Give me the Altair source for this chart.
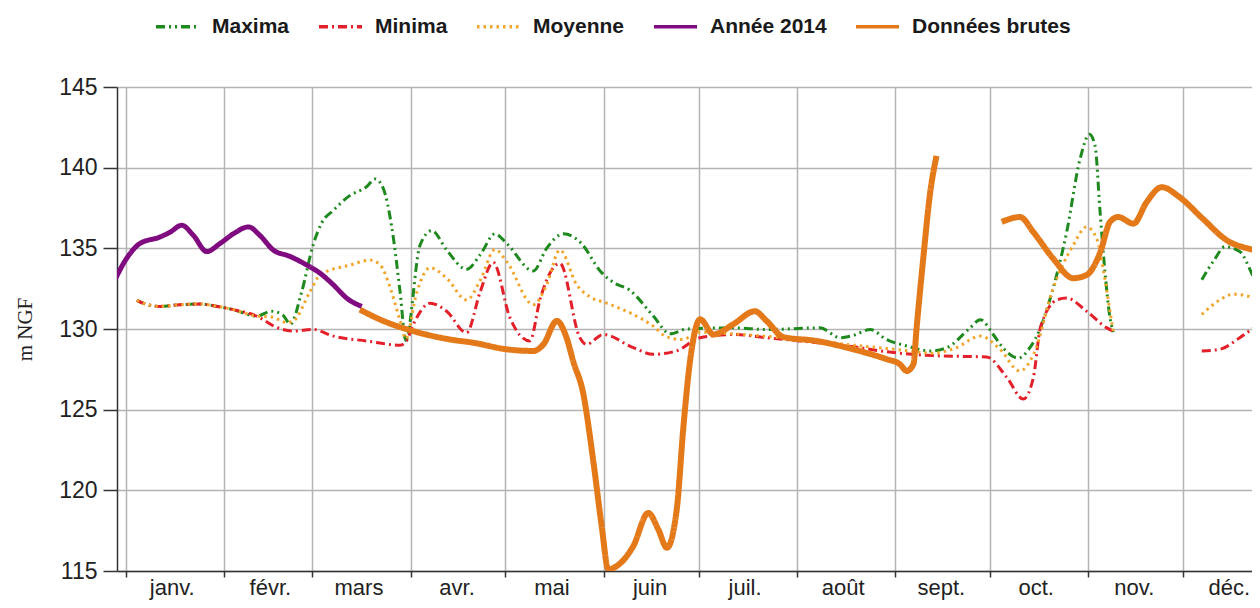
import altair as alt
import pandas as pd

# ---------------- data ----------------
series = ["Maxima", "Minima", "Moyenne", "Année 2014", "Données brutes"]
colors = ["#1e8a1e", "#e3202a", "#f2a52a", "#800a80", "#e4791a"]
dashes = [[9, 4, 2, 4, 2, 4], [9, 4, 2, 4], [2.5, 4], [1, 0], [1, 0]]
widths = [3, 3, 3, 5, 6]

month_starts = [0, 31, 59, 90, 120, 151, 181, 212, 243, 273, 304, 334]
month_labels = ["janv.", "févr.", "mars", "avr.", "mai", "juin", "juil.",
                "août", "sept.", "oct.", "nov.", "déc."]
y_ticks = [115, 120, 125, 130, 135, 140, 145]

# Jan-Feb, where the three statistics coincide
common_days = [3.5, 7, 10.8, 17, 23.5, 29, 34, 41.4]
common_vals = [131.78, 131.5, 131.4, 131.5, 131.55, 131.4, 131.2, 130.8]

max1_days = [46, 49.7, 52, 55.6, 59.2, 62, 65.6, 71, 76, 78.8, 81.4, 84, 86.7,
             88.5, 93, 96.7, 101.4, 107.7, 112, 116.7, 120.4, 128.8, 133,
             138.3, 144, 149.9, 154, 159.3, 166.7, 172, 177.2, 192, 202.6,
             219.4, 225.7, 229.9, 235.2, 240.4, 246.8, 254.2, 259.4, 266.8,
             270, 274.1, 276.3, 282, 285.7, 289, 293, 297.3, 301.5, 304.5,
             306.3, 307.8, 309.4, 311, 312]
max1_vals = [131.1, 130.85, 130.3, 132.3, 135.2, 136.6, 137.35, 138.3, 138.8,
             139.3, 138.7, 136.4, 132.3, 129.3, 135.2, 136.1, 134.9, 133.7,
             134.6, 135.9, 135.3, 133.6, 135.0, 135.9, 135.3, 133.6, 132.9,
             132.4, 130.8, 129.7, 130.0, 130.07, 129.97, 130.07, 129.46, 129.6,
             129.97, 129.35, 128.95, 128.64, 128.84, 130.07, 130.58, 129.66,
             129.05, 128.2, 128.84, 130.07, 132.5, 136.0, 140.5, 142.07,
             141.35, 137.45, 133.56, 130.7, 129.8]
max2_days = [340, 344, 347.3, 352, 356, 358.4, 362]
max2_vals = [133.05, 134.3, 135.1, 134.8, 133.35, 132.3, 130.5]

min1_days = [47.7, 53, 59.2, 65.6, 76, 86.7, 88.5, 90.9, 96.2, 101.4, 107.7,
             112, 116.1, 121.4, 127.7, 131, 137.2, 143.5, 145.6, 150.9, 160.4,
             166.7, 174, 181.5, 192, 202.6, 213, 230, 240, 255, 265, 272,
             278.4, 283.6, 286.8, 289, 294.2, 297.3, 303.6, 310, 312]
min1_vals = [130.1, 129.87, 129.97, 129.56, 129.26, 129.0, 129.2, 130.3, 131.6,
             131.1, 129.77, 132.3, 134.13, 130.7, 129.26, 131.9, 134.07,
             129.46, 129.05, 129.66, 128.84, 128.43, 128.64, 129.46, 129.66,
             129.46, 129.26, 128.9, 128.6, 128.35, 128.3, 128.27, 127.0,
             125.66, 127.0, 130.07, 131.8, 131.92, 131.1, 130.07, 129.87]
min2_days = [340, 345.7, 352, 356.3, 362]
min2_vals = [128.64, 128.74, 129.46, 130.07, 131.0]

moy1_days = [46, 50.9, 53, 58.2, 61.4, 71, 77.2, 80.4, 84, 86.7, 88.5, 92,
             96.2, 101.4, 107.7, 112, 116.7, 120.4, 128.8, 133, 137.2, 142.5,
             146.6, 152, 160.4, 166.7, 171, 176, 181, 192, 205, 215, 230, 245,
             255, 262, 270, 276, 282.5, 287, 293, 299.4, 303.6, 306.8, 309,
             311, 312]
moy1_vals = [130.75, 130.4, 130.5, 132.3, 133.35, 133.97, 134.27, 133.97,
             132.3, 130.5, 129.4, 132.3, 133.8, 133.15, 131.8, 133.0, 134.93,
             134.17, 131.5, 132.74, 134.9, 132.74, 132.0, 131.6, 130.9, 130.18,
             129.5, 129.35, 129.8, 129.7, 129.5, 129.3, 129.0, 128.7, 128.5,
             128.8, 129.56, 128.8, 127.4, 128.5, 132.5, 135.2, 136.33, 135.6,
             133.56, 131.1, 129.87]
moy2_days = [340, 345.7, 350, 356.3, 362]
moy2_vals = [130.9, 131.8, 132.16, 131.92, 131.0]

an_days = [-4, 0.3, 4.5, 10.8, 14, 17.7, 21.4, 25.6, 29.8, 34, 38.8, 42.4,
           46.6, 51.9, 57.2, 61.4, 65.6, 69.9, 74.6]
an_vals = [132.8, 134.38, 135.3, 135.7, 136.0, 136.43, 135.8, 134.8, 135.3,
           135.9, 136.33, 135.8, 134.9, 134.5, 133.97, 133.46, 132.74, 131.9,
           131.4]

br1_days = [74, 81.4, 90.9, 102.5, 109.8, 120.4, 128.8, 132, 136.2, 139.3,
            141.4, 144.6, 147.7, 150.4, 152.5, 155.1, 160.4, 165.1, 168.3, 171,
            174.1, 176.2, 178.3, 181.5, 185.7, 192, 198.8, 202.5, 207.8, 218.3,
            229.9, 240.4, 244.6, 246.8, 248.9, 249.9, 252, 254.2, 256.2]
br1_vals = [131.2, 130.5, 129.87, 129.35, 129.15, 128.74, 128.64, 129.05,
            130.5, 129.46, 128.0, 125.97, 121.87, 117.77, 115.1, 115.3, 116.55,
            118.6, 117.57, 116.44, 118.8, 123.9, 128.0, 130.6, 129.66, 130.3,
            131.1, 130.5, 129.5, 129.26, 128.74, 128.13, 127.82, 127.4, 127.82,
            130.07, 134.38, 138.48, 140.73]
br2_days = [276.8, 282.6, 286.8, 293, 299.4, 303.6, 308, 311, 313.6, 318.4,
            322.6, 327.3, 333, 340.3, 347.9, 356.3, 362]
br2_vals = [136.64, 136.94, 136.0, 134.38, 133.15, 133.35, 134.8, 136.64,
            136.94, 136.53, 137.87, 138.79, 138.17, 136.84, 135.5, 134.9, 134.6]

# ---------------- table ----------------
segments = [
    ("Maxima", "max1", common_days + max1_days, common_vals + max1_vals),
    ("Maxima", "max2", max2_days, max2_vals),
    ("Minima", "min1", common_days + min1_days, common_vals + min1_vals),
    ("Minima", "min2", min2_days, min2_vals),
    ("Moyenne", "moy1", common_days + moy1_days, common_vals + moy1_vals),
    ("Moyenne", "moy2", moy2_days, moy2_vals),
    ("Année 2014", "an", an_days, an_vals),
    ("Données brutes", "br1", br1_days, br1_vals),
    ("Données brutes", "br2", br2_days, br2_vals),
]
width_of = dict(zip(series, widths))
rows = []
for serie, seg, days, vals in segments:
    for d, v in zip(days, vals):
        rows.append({"serie": serie, "seg": seg, "jour": d, "cote": v,
                     "w": width_of[serie]})
df = pd.DataFrame(rows)

label_expr = f"{month_labels}[indexof({month_starts}, datum.value)]"

FONT = "Liberation Sans"
legend_kw = dict(title=None, orient="none", direction="horizontal",
                 legendX=37, legendY=-84)

chart = alt.Chart(df).mark_line(interpolate="monotone", clip=True).encode(
    x=alt.X("jour:Q",
            scale=alt.Scale(domain=[-2.75, 355.87], nice=False, zero=False),
            axis=alt.Axis(values=month_starts, labelExpr=label_expr,
                          labelOffset=46, labelFontSize=22, labelFont=FONT,
                          labelColor="#222222", labelPadding=0,
                          labelFlush=False, labelOverlap=False,
                          tickSize=6, tickColor="#333333", tickWidth=1.5,
                          domainColor="#333333", domainWidth=1.5,
                          grid=True, gridColor="#b4b4b4", gridWidth=1.5,
                          title=None)),
    y=alt.Y("cote:Q",
            scale=alt.Scale(domain=[115, 145], nice=False, zero=False),
            axis=alt.Axis(values=y_ticks, labelFontSize=23, labelFont=FONT,
                          labelColor="#222222", labelPadding=6,
                          tickSize=14, tickColor="#333333", tickWidth=1.5,
                          domainColor="#333333", domainWidth=1.5,
                          grid=True, gridColor="#b4b4b4", gridWidth=1.5,
                          title="m NGF", titleFont="Liberation Serif",
                          titleFontSize=21, titleFontWeight="normal",
                          titleColor="#222222", titlePadding=23)),
    color=alt.Color("serie:N",
                    scale=alt.Scale(domain=series, range=colors),
                    legend=alt.Legend(**legend_kw)),
    strokeDash=alt.StrokeDash("serie:N",
                              scale=alt.Scale(domain=series, range=dashes),
                              legend=alt.Legend(**legend_kw)),
    strokeWidth=alt.StrokeWidth("w:Q",
                                scale=alt.Scale(domain=[0, 10], range=[0, 10]),
                                legend=None),
    detail="seg:N",
).properties(
    width=1135,
    height=484,
    autosize=alt.AutoSizeParams(type="none"),
    padding={"left": 109, "top": 79, "right": 0, "bottom": 29},
).configure_view(
    stroke="transparent"
).configure_legend(
    labelFont=FONT, labelFontSize=21, labelFontWeight="bold",
    labelColor="#1a1a1a", symbolType="stroke", symbolSize=1849,
    symbolStrokeWidth=3.5, labelOffset=11, columnPadding=22, padding=0,
    labelLimit=400
)

chart.save("out.html", embed_options={"renderer": "svg", "actions": False})
